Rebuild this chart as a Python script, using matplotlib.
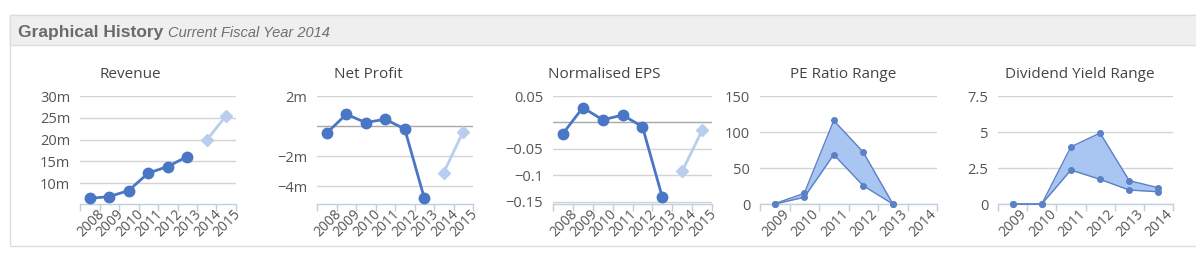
import matplotlib
matplotlib.use("Agg")
import matplotlib.pyplot as plt
from matplotlib.patches import Rectangle
from matplotlib.ticker import FixedLocator
import matplotlib.transforms as mtransforms
import numpy as np

# ---------------- data ----------------
years8 = ['2008', '2009', '2010', '2011', '2012', '2013', '2014', '2015']
revenue_actual = [6.5, 6.9, 8.3, 12.3, 13.8, 16.1]          # m, 2008-2013
revenue_forecast = [19.9, 25.5]                              # m, 2014-2015
profit_actual = [-0.47, 0.78, 0.23, 0.45, -0.2, -4.8]        # m
profit_forecast = [-3.1, -0.37]
eps_actual = [-0.021, 0.028, 0.005, 0.014, -0.008, -0.141]
eps_forecast = [-0.092, -0.015]

years6 = ['2009', '2010', '2011', '2012', '2013', '2014']
pe_high = [0.5, 14.8, 116, 72, 0.5]
pe_low = [0.0, 9.3, 68.5, 25.4, 0.0]
dy_high = [0.0, 0.0, 3.97, 4.93, 1.62, 1.13]
dy_low = [0.0, 0.0, 2.36, 1.71, 0.97, 0.85]

rev_ticks = [10, 15, 20, 25, 30]
rev_labels = ['10m', '15m', '20m', '25m', '30m']
np_ticks = [-4, -2, 0, 2]
np_labels = ['−4m', '−2m', '', '2m']
eps_ticks = [-0.15, -0.1, -0.05, 0, 0.05]
eps_labels = ['−0.15', '−0.1', '−0.05', '', '0.05']
pe_ticks = [0, 50, 100, 150]
pe_labels = ['0', '50', '100', '150']
dy_ticks = [0, 2.5, 5, 7.5]
dy_labels = ['0', '2.5', '5', '7.5']

# ---------------- style ----------------
W, H = 1196, 261
DARK = '#4a76c6'
LIGHT = '#b9cdef'
AREA_LINE = '#5a80c6'
AREA_FILL = '#a9c5f1'
GRID = '#d3d3d3'
ZERO = '#a8a8a8'
AXIS = '#c0d0e0'
TXT = '#555555'
FONT = ['Open Sans', 'DejaVu Sans']

fig = plt.figure(figsize=(W / 100, H / 100), dpi=100)

# panel frame + header
fig.patches.append(Rectangle((10 / W, 1 - 246 / H), (W - 10) / W + 0.01, (246 - 15) / H,
                             transform=fig.transFigure, facecolor='white',
                             edgecolor='#dddddd', lw=1, zorder=-10))
fig.patches.append(Rectangle((10 / W, 1 - 45 / H), (W - 10) / W + 0.01, 30 / H,
                             transform=fig.transFigure, facecolor='#efefef',
                             edgecolor='#dddddd', lw=1, zorder=-9))
t1 = fig.text(18 / W, 1 - 32 / H, 'Graphical History', fontsize=12.5, fontweight='bold',
              color='#6a6a6a', family=['Liberation Sans', 'DejaVu Sans'], va='center')
fig.canvas.draw()
bb = t1.get_window_extent()
fig.text((bb.x1 + 5) / W, 1 - 33 / H, 'Current Fiscal Year 2014', fontsize=10.5,
         style='italic', color='#6f6f6f', family=['Liberation Sans', 'DejaVu Sans'], va='center')


def make_ax(x0, x1, title, title_cx, ylim, ticks, labels, ncat, cats):
    ax = fig.add_axes([x0 / W, 1 - 204 / H, (x1 - x0) / W, (204 - 96) / H])
    ax.patch.set_alpha(0)
    ax.set_xlim(-0.5, ncat - 0.5)
    ax.set_ylim(*ylim)
    for s in ['top', 'right', 'left']:
        ax.spines[s].set_visible(False)
    ax.spines['bottom'].set_color(AXIS)
    ax.spines['bottom'].set_linewidth(1)
    ax.set_yticks(ticks)
    ax.set_yticklabels(labels)
    ax.tick_params(axis='y', length=0, pad=7, labelsize=10.5, labelcolor=TXT)
    for lab in ax.get_yticklabels():
        lab.set_family(FONT)
    for t in ticks:
        ax.axhline(t, color=ZERO if (t == 0 and ylim[0] < 0) else GRID, lw=1, zorder=0.5)
    ax.set_xticks(range(ncat))
    ax.set_xticklabels(cats)
    ax.xaxis.set_minor_locator(FixedLocator(np.arange(-0.5, ncat, 1.0)))
    ax.tick_params(axis='x', which='major', length=0, labelsize=10, labelcolor=TXT, pad=2)
    ax.tick_params(axis='x', which='minor', length=5, color=AXIS, width=1)
    off = mtransforms.ScaledTranslation(5 / 72, 0, fig.dpi_scale_trans)
    for lab in ax.get_xticklabels():
        lab.set_rotation(45)
        lab.set_ha('right')
        lab.set_va('top')
        lab.set_rotation_mode('anchor')
        lab.set_family(FONT)
        lab.set_transform(lab.get_transform() + off)
    fig.text(title_cx / W, 1 - 74 / H, title, ha='center', va='center', fontsize=11,
             color='#444444', family=FONT)
    return ax


def line_chart(ax, actual, forecast):
    xa = np.arange(len(actual))
    xf = np.arange(len(actual), len(actual) + len(forecast))
    ax.plot(xa, actual, color=DARK, lw=2, marker='o', ms=7.5, clip_on=False, zorder=3)
    ax.plot(xf, forecast, color=LIGHT, lw=2, marker='D', ms=6, clip_on=False, zorder=3)


ax1 = make_ax(80, 236, 'Revenue', 130, (5.2, 30), rev_ticks, rev_labels, 8, years8)
line_chart(ax1, revenue_actual, revenue_forecast)

ax2 = make_ax(317, 473, 'Net Profit', 368, (-5.2, 2), np_ticks, np_labels, 8, years8)
line_chart(ax2, profit_actual, profit_forecast)

ax3 = make_ax(553, 712, 'Normalised EPS', 604, (-0.154, 0.05), eps_ticks, eps_labels, 8, years8)
line_chart(ax3, eps_actual, eps_forecast)


def range_chart(ax, hi, lo):
    x = np.arange(len(hi))
    ax.fill_between(x, lo, hi, color=AREA_FILL, zorder=2, lw=0)
    ax.plot(x, hi, color=AREA_LINE, lw=1, marker='o', ms=4, clip_on=False, zorder=3)
    ax.plot(x, lo, color=AREA_LINE, lw=1, marker='o', ms=4, clip_on=False, zorder=3)


ax4 = make_ax(760, 937, 'PE Ratio Range', 843, (0, 150), pe_ticks, pe_labels, 6, years6)
range_chart(ax4, pe_high, pe_low)

ax5 = make_ax(998, 1173, 'Dividend Yield Range', 1080, (0, 7.5), dy_ticks, dy_labels, 6, years6)
range_chart(ax5, dy_high, dy_low)

fig.savefig('out.png', dpi=100)
